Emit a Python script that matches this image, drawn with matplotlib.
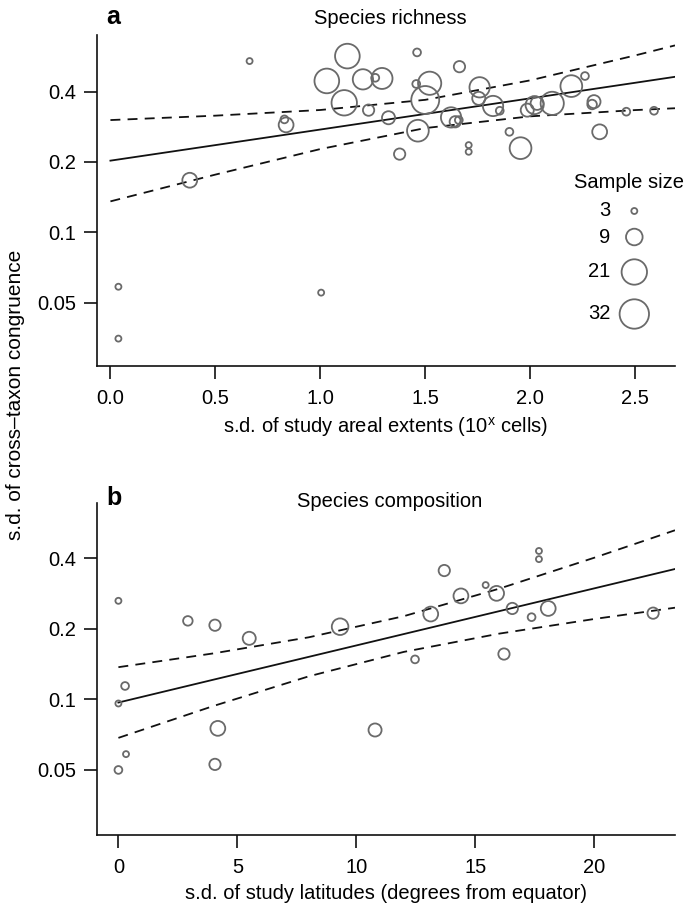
import numpy as np
import matplotlib
matplotlib.use("Agg")
import matplotlib.pyplot as plt

plt.rcParams['font.family'] = ['Liberation Sans', 'DejaVu Sans']

# ---- panel a: species richness vs s.d. of areal extent ----
rich_x = [0.038, 0.038, 1.004, 0.663, 0.378, 0.829, 0.837, 1.129, 1.031, 1.114,
          1.203, 1.262, 1.294, 1.230, 1.325, 1.461, 1.663, 1.521, 1.457, 1.500,
          1.465, 1.378, 1.623, 1.643, 1.660, 1.707, 1.707, 1.759, 1.755, 1.823,
          1.855, 1.901, 1.954, 1.986, 2.021, 2.033, 2.105, 2.196, 2.261, 2.304,
          2.295, 2.331, 2.458, 2.590]
rich_y = [0.0585, 0.0351, 0.0552, 0.540, 0.167, 0.304, 0.288, 0.567, 0.444, 0.358,
          0.451, 0.458, 0.455, 0.333, 0.309, 0.588, 0.511, 0.434, 0.431, 0.368,
          0.272, 0.216, 0.310, 0.297, 0.302, 0.236, 0.221, 0.417, 0.374, 0.347,
          0.331, 0.269, 0.229, 0.333, 0.350, 0.356, 0.356, 0.422, 0.466, 0.362,
          0.352, 0.269, 0.328, 0.331]
rich_n = [3, 3, 3, 3, 8, 4, 8, 20, 20, 21,
          14, 4, 15, 6, 7, 4, 6, 18, 4, 28,
          16, 6, 14, 6, 4, 3, 3, 14, 7, 14,
          4, 4, 16, 7, 11, 7, 18, 16, 4, 7,
          5, 8, 4, 4]

# fitted line and 95% band
rich_fit_x = [0.0, 0.5, 1.0, 1.5, 2.0, 2.5, 2.69]
rich_fit = [0.2025, 0.2360, 0.2751, 0.3208, 0.3740, 0.4360, 0.4624]
rich_upper = [0.302, 0.3154, 0.3335, 0.3686, 0.4465, 0.5707, 0.630]
rich_lower = [0.1356, 0.1765, 0.2270, 0.2791, 0.3133, 0.3332, 0.3393]

# ---- panel b: species composition vs s.d. of latitude ----
comp_x = [0.0, 2.92, 4.06, 5.50, 9.32, 13.70, 17.68, 17.68, 15.44, 15.90,
          14.40, 13.13, 16.56, 17.37, 18.07, 22.48, 16.21, 12.47, 0.28, 0.0,
          0.32, 0.0, 4.18, 4.06, 10.79]
comp_y = [0.263, 0.216, 0.207, 0.182, 0.204, 0.354, 0.429, 0.396, 0.307, 0.283,
          0.276, 0.231, 0.244, 0.224, 0.244, 0.233, 0.156, 0.148, 0.114, 0.096,
          0.0584, 0.050, 0.0752, 0.0528, 0.074]
comp_n = [3, 5, 6, 7, 9, 6, 3, 3, 3, 8,
          8, 8, 6, 4, 8, 6, 6, 4, 4, 3,
          3, 4, 8, 6, 7]

comp_fit_x = [0.0, 4.0, 8.0, 12.0, 16.0, 20.0, 23.4]
comp_fit = [0.0969, 0.1213, 0.1517, 0.1898, 0.2375, 0.2971, 0.3594]
comp_upper = [0.1371, 0.1570, 0.1838, 0.2262, 0.2961, 0.4013, 0.5257]
comp_lower = [0.0685, 0.0937, 0.1253, 0.1593, 0.1905, 0.2200, 0.2458]

legend_n = [3, 9, 21, 32]
yticks = [0.05, 0.1, 0.2, 0.4]

CIRCLE = '#6a6a6a'
FS = 14.5


def marker_area(n):
    # radius in pixels for a given sample size
    r = np.interp(n, [3, 9, 21, 32], [3.0, 8.3, 12.7, 14.7])
    return (2 * r * 0.72) ** 2


def style_axes(ax):
    for side in ['top', 'right']:
        ax.spines[side].set_visible(False)
    for side in ['left', 'bottom']:
        ax.spines[side].set_linewidth(1.2)
        ax.spines[side].set_color('#111111')
    ax.set_yscale('log')
    ax.minorticks_off()
    ax.set_yticks(yticks)
    ax.set_yticklabels(['0.05', '0.1', '0.2', '0.4'])
    ax.tick_params(length=9.4, width=1.2, color='#111111', labelsize=FS)
    ax.tick_params(axis='y', pad=5.5)
    ax.tick_params(axis='x', pad=7.5)


def draw_panel(ax, x, y, n, fx, fit, up, lo):
    ax.scatter(x, y, s=marker_area(np.array(n)), facecolors='none',
               edgecolors=CIRCLE, linewidths=1.3, zorder=3)
    ax.plot(fx, fit, color='#111111', lw=1.3, zorder=2)
    ax.plot(fx, up, color='#111111', lw=1.3, dashes=(5.5, 4), zorder=2)
    ax.plot(fx, lo, color='#111111', lw=1.3, dashes=(5.5, 4), zorder=2)


fig = plt.figure(figsize=(6.85, 9.05), dpi=100)

ax1 = fig.add_axes([97 / 685, 1 - 366 / 905, 578 / 685, 331 / 905])
style_axes(ax1)
draw_panel(ax1, rich_x, rich_y, rich_n, rich_fit_x, rich_fit, rich_upper, rich_lower)
ax1.set_xlim(-0.064, 2.69)
ax1.set_ylim(0.0268, 0.698)
ax1.set_xticks([0.0, 0.5, 1.0, 1.5, 2.0, 2.5])
ax1.set_xticklabels(['0.0', '0.5', '1.0', '1.5', '2.0', '2.5'])
ax1.set_xlabel('s.d. of study areal extents (10$^{\\mathregular{x}}$ cells)',
               fontsize=FS, labelpad=5)

# sample size key
ax1.text(0.92, 0.555, 'Sample size', transform=ax1.transAxes, ha='center',
         va='center', fontsize=FS)
key_y = [0.4683, 0.3897, 0.2840, 0.1571]
ax1.scatter([0.9296] * 4, key_y, s=marker_area(np.array(legend_n)),
            facecolors='none', edgecolors=CIRCLE, linewidths=1.3,
            transform=ax1.transAxes, clip_on=False)
for n, yy in zip(legend_n, key_y):
    ax1.text(0.888, yy, str(n), transform=ax1.transAxes, ha='right',
             va='center', fontsize=FS)

ax2 = fig.add_axes([97 / 685, 1 - 835 / 905, 578 / 685, 332 / 905])
style_axes(ax2)
draw_panel(ax2, comp_x, comp_y, comp_n, comp_fit_x, comp_fit, comp_upper, comp_lower)
ax2.set_xlim(-0.9, 23.4)
ax2.set_ylim(0.0264, 0.687)
ax2.set_xticks([0, 5, 10, 15, 20])
ax2.set_xlabel('s.d. of study latitudes (degrees from equator)',
               fontsize=FS, labelpad=5)

fig.text(390 / 685, 1 - 18 / 905, 'Species richness', ha='center', va='center',
         fontsize=FS)
fig.text(390 / 685, 1 - 501 / 905, 'Species composition', ha='center',
         va='center', fontsize=FS)
fig.text(113 / 685, 1 - 17 / 905, 'a', ha='center', va='center', fontsize=18,
         fontweight='bold')
fig.text(114 / 685, 1 - 498 / 905, 'b', ha='center', va='center', fontsize=18,
         fontweight='bold')
fig.text(16 / 685, 1 - 395 / 905, 's.d. of cross\u2013taxon congruence',
         rotation=90, ha='center', va='center', fontsize=15)

fig.savefig('out.png', dpi=100, facecolor='white')
